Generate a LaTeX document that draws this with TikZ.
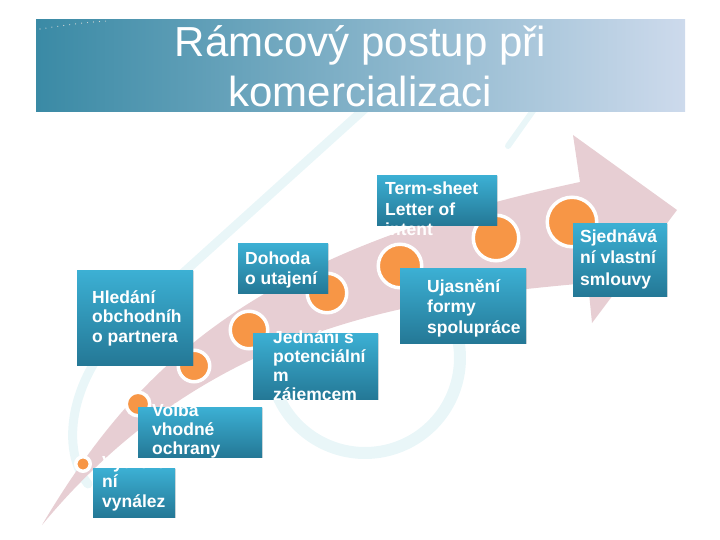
\documentclass[tikz,border=0pt]{standalone}
\usepackage{fontspec}
\setmainfont{Liberation Sans}
\usepackage{xcolor}
\usepackage{tikz}
\usetikzlibrary{shadows}

\definecolor{stepTop}{RGB}{60,176,212}
\definecolor{stepBot}{RGB}{36,120,150}
\definecolor{dotOrange}{RGB}{247,150,70}
\definecolor{arrowPink}{RGB}{231,206,211}
\definecolor{swirlCyan}{RGB}{233,246,248}
\definecolor{bandLeft}{RGB}{58,138,165}
\definecolor{bandRight}{RGB}{205,218,236}

\begin{document}
\begin{tikzpicture}[x=1pt, y=-1pt,
    band/.style={rectangle, inner sep=0pt, minimum width=649, minimum height=92, left color=bandLeft, right color=bandRight, text=white, align=center, font=\fontsize{42}{50}\selectfont},
    stepbox/.style={rectangle, anchor=north west, inner sep=0pt, top color=stepTop, bottom color=stepBot, drop shadow={shadow xshift=1.2pt, shadow yshift=-1.2pt, opacity=0.25}},
    steptext/.style={anchor=north west, inner sep=0pt, text=white, align=left, font=\bfseries\fontsize{17.5}{#1}\selectfont},
    steptext/.default=19.5,
    dot/.style={circle, inner sep=0pt, fill=dotOrange, draw=white, line width=3.5pt},
    swoosh/.style={draw=swirlCyan, line cap=round}
]
\useasboundingbox (0,0) rectangle (720,540);

\draw[swoosh, line width=9] (88,484) .. controls (60,450) and (70,380) .. (120,330) -- (380,95);
\draw[swoosh, line width=12] plot[domain=-15:155, samples=40, smooth] ({365+95*cos(\x)}, {358+95*sin(\x)});
\draw[swoosh, line width=6] (508,146) -- (535,108);

\fill[arrowPink] (42,525) .. controls (140,360) and (260,250) .. (580,182) -- (573,135) -- (677,210) -- (592,323) -- (588,283) .. controls (420,298) and (210,322) .. cycle;

\node[dot, minimum size=14.5] (d1) at (83,464) {};
\node[dot, minimum size=23.5] (d2) at (138,404) {};
\node[dot, minimum size=31.5] (d3) at (194,366) {};
\node[dot, minimum size=37.5] (d4) at (249,330) {};
\node[dot, minimum size=39.5] (d5) at (327,293) {};
\node[dot, minimum size=43.5] (d6) at (400,266) {};
\node[dot, minimum size=45.5] (d7) at (496,238) {};
\node[dot, minimum size=49.5] (d8) at (572,222) {};

\node[stepbox, minimum width=82, minimum height=49] (vynalez) at (93,468) {};
\node[steptext] (vynalez-t) at (102,455) {Vytvoře\\ní\\vynález};
\node[stepbox, minimum width=124, minimum height=50] (ochrana) at (138,407) {};
\node[steptext=19] (ochrana-t) at (152,404) {Volba\\vhodné\\ochrany};
\node[stepbox, minimum width=116, minimum height=95] (partner) at (77,270) {};
\node[steptext] (partner-t) at (92,290) {Hledání\\obchodníh\\o partnera};
\node[stepbox, minimum width=90, minimum height=50] (utajeni) at (238,243) {};
\node[steptext=20] (utajeni-t) at (245,252) {Dohoda\\o utajení};
\node[stepbox, minimum width=125, minimum height=66] (jednani) at (253,333) {};
\node[steptext=19] (jednani-t) at (273,330) {Jednání s\\potenciální\\m\\zájemcem};
\node[stepbox, minimum width=120, minimum height=50] (termsheet) at (377,175) {};
\node[steptext=20.5] (termsheet-t) at (385,182) {Term-sheet\\Letter of\\intent};
\node[stepbox, minimum width=126, minimum height=75] (spoluprace) at (400,268) {};
\node[steptext=20.5] (spoluprace-t) at (427,279) {Ujasnění\\formy\\spolupráce};
\node[stepbox, minimum width=94, minimum height=73] (smlouva) at (573,223) {};
\node[steptext=21.5] (smlouva-t) at (580,229) {Sjednává\\ní vlastní\\smlouvy};

\node[band] (title) at (360.5,66) {Rámcový postup při\\komercializaci};
\draw[white!70!gray, line width=1.2pt, line cap=round, dash pattern=on 0pt off 6pt] (40,29) .. controls (60,26) and (85,22) .. (108,21);
\end{tikzpicture}
\end{document}
